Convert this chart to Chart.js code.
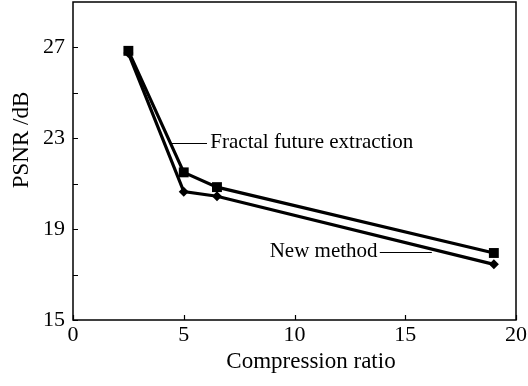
<!DOCTYPE html>
<html>
<head>
<meta charset="utf-8">
<script src="https://cdn.jsdelivr.net/npm/chart.js@4.4.1/dist/chart.umd.min.js"></script>
<style>
html,body{margin:0;padding:0;background:#fff;}
#wrap{width:528px;height:386px;}
</style>
</head>
<body>
<div id="wrap"><canvas id="c" width="528" height="386"></canvas></div>
<script>
// ---- data ----
const compressionRatio = [2.5, 5, 6.5, 19];
const fractalPSNR = [26.85, 21.5, 20.85, 17.95];
const newMethodPSNR = [26.75, 20.65, 20.45, 17.45];
const seriesNames = ['Fractal future extraction', 'New method'];
const xTicks = [0, 5, 10, 15, 20];
const yLabelTicks = [15, 19, 23, 27];
const yMinorTicks = [17, 21, 25];
const xTitle = 'Compression ratio';
const yTitle = 'PSNR /dB';

// annotation placement (in data units)
const annotations = [
  {text: seriesNames[0], tx: 6.2, ty: 22.8, lx1: 4.45, lx2: 6.05, align: 'left'},
  {text: seriesNames[1], tx: 13.75, ty: 18.0, lx1: 13.85, lx2: 16.2, align: 'right'}
];

const SERIF = '"Liberation Serif", "Times New Roman", serif';

const frame = {
  id: 'frame',
  afterDatasetsDraw(chart) {
    const {ctx, chartArea: a, scales: {x, y}} = chart;
    ctx.save();
    ctx.strokeStyle = '#000';
    ctx.lineWidth = 1.5;
    ctx.strokeRect(a.left, a.top, a.right - a.left, a.bottom - a.top);
    ctx.lineWidth = 1.2;
    ctx.beginPath();
    yLabelTicks.concat(yMinorTicks).forEach(v => {
      const py = Math.round(y.getPixelForValue(v)) + 0.5;
      ctx.moveTo(a.left, py); ctx.lineTo(a.left + 5, py);
    });
    xTicks.forEach(v => {
      const px = Math.round(x.getPixelForValue(v)) + 0.5;
      ctx.moveTo(px, a.bottom); ctx.lineTo(px, a.bottom - 5);
    });
    ctx.stroke();
    // annotations
    ctx.font = '21px ' + SERIF;
    ctx.fillStyle = '#000';
    ctx.textBaseline = 'middle';
    ctx.lineWidth = 1.2;
    annotations.forEach(an => {
      const py = y.getPixelForValue(an.ty);
      ctx.textAlign = an.align;
      ctx.fillText(an.text, x.getPixelForValue(an.tx), py);
      ctx.beginPath();
      ctx.moveTo(x.getPixelForValue(an.lx1), Math.round(py) + 0.5);
      ctx.lineTo(x.getPixelForValue(an.lx2), Math.round(py) + 0.5);
      ctx.stroke();
    });
    // axis titles
    ctx.font = '23px ' + SERIF;
    ctx.textAlign = 'center';
    ctx.fillText(xTitle, 311, 362);
    ctx.translate(22, 140);
    ctx.rotate(-Math.PI / 2);
    ctx.fillText(yTitle, 0, 0);
    ctx.restore();
  }
};

new Chart(document.getElementById('c'), {
  type: 'line',
  data: {
    datasets: [
      {
        label: seriesNames[0],
        data: compressionRatio.map((v, i) => ({x: v, y: fractalPSNR[i]})),
        borderColor: '#000', backgroundColor: '#000', borderWidth: 3.2,
        pointStyle: 'rect', pointRadius: 7, pointBorderWidth: 0,
        tension: 0, order: 1
      },
      {
        label: seriesNames[1],
        data: compressionRatio.map((v, i) => ({x: v, y: newMethodPSNR[i]})),
        borderColor: '#000', backgroundColor: '#000', borderWidth: 3.2,
        pointStyle: 'rectRot', pointRadius: 5, pointBorderWidth: 0,
        tension: 0, order: 2
      }
    ]
  },
  options: {
    responsive: false,
    animation: false,
    devicePixelRatio: 1,
    layout: {autoPadding: false, padding: {top: 2, right: 12, left: 0, bottom: 0}},
    plugins: {legend: {display: false}, tooltip: {enabled: false}},
    scales: {
      x: {
        type: 'linear', min: 0, max: 20,
        afterFit(s) { s.height = 66; s.paddingLeft = 0; s.paddingRight = 0; },
        afterBuildTicks(s) { s.ticks = xTicks.map(v => ({value: v})); },
        grid: {display: false, drawTicks: false},
        border: {display: false},
        ticks: {color: '#000', padding: 2, maxRotation: 0, font: {family: SERIF, size: 22}},
        title: {display: false}
      },
      y: {
        type: 'linear', min: 15, max: 29,
        afterFit(s) { s.width = 73; s.paddingTop = 0; s.paddingBottom = 0; },
        afterBuildTicks(s) { s.ticks = yLabelTicks.map(v => ({value: v})); },
        grid: {display: false, drawTicks: false},
        border: {display: false},
        ticks: {color: '#000', padding: 8, font: {family: SERIF, size: 22}},
        title: {display: false}
      }
    }
  },
  plugins: [frame]
});
</script>
</body>
</html>
